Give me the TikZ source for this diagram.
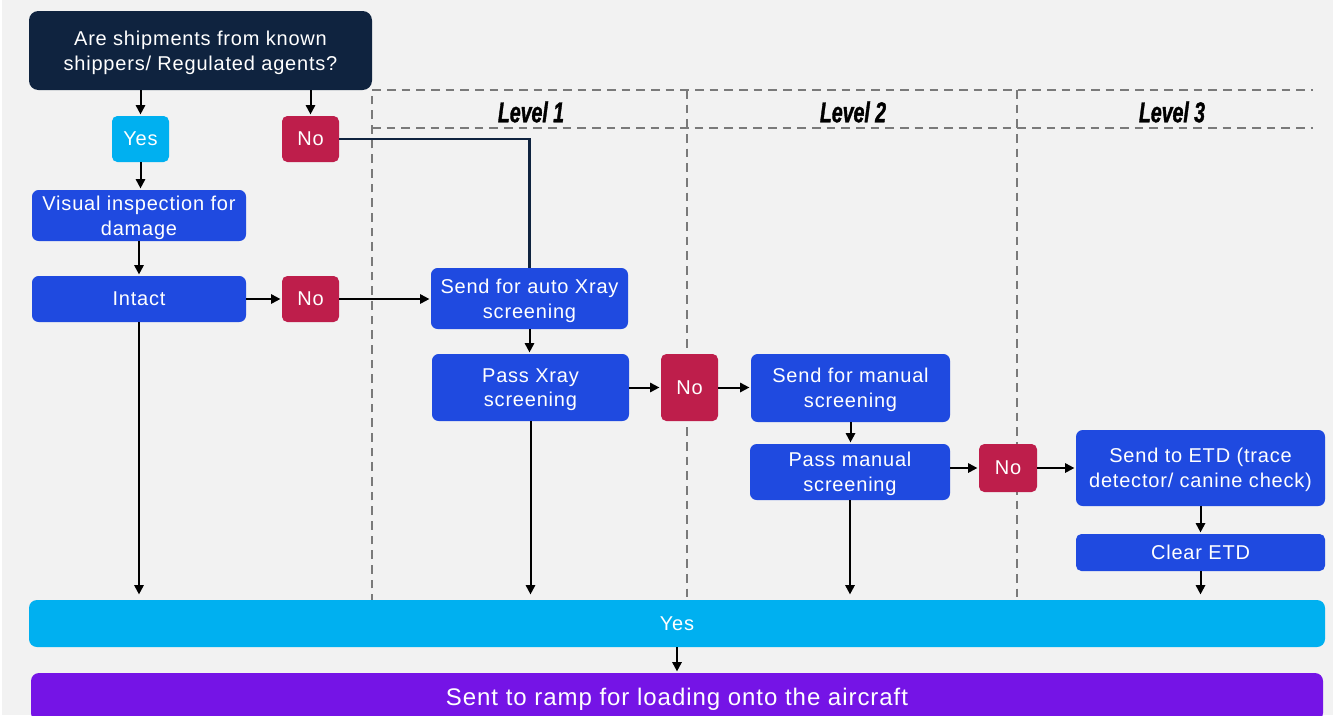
\documentclass[tikz,border=0pt]{standalone}
\usepackage{fontspec}
\setmainfont{Liberation Sans}[LetterSpace=4]
\newfontfamily\lvlfont{Liberation Sans}[FakeStretch=0.68, FakeBold=1.2]
\usetikzlibrary{arrows.meta}

\definecolor{bgcol}{HTML}{F2F2F2}
\definecolor{navy}{HTML}{0F233F}
\definecolor{skyc}{HTML}{00B0F0}
\definecolor{crim}{HTML}{BE1E4B}
\definecolor{bluec}{HTML}{1F4AE0}
\definecolor{purp}{HTML}{7514E6}
\definecolor{dashgrey}{HTML}{7A7A7A}

\tikzset{
  box/.style={rounded corners=5pt, inner sep=0pt, align=center, text=white,
    text depth=0pt, font=\fontsize{15}{18.5}\selectfont},
  bluebox/.style={box, fill=bluec},
  nobox/.style={box, fill=crim, rounded corners=4pt},
  yesbox/.style={box, fill=skyc, rounded corners=4pt},
  arr/.style={-{Triangle[length=7pt,width=7pt]}, line width=1.5pt, shorten >=1pt},
  barr/.style={arr, shorten >=4pt},
  dashline/.style={draw=dashgrey, line width=1.8pt, dash pattern=on 6.5pt off 4.5pt},
  lvl/.style={font=\lvlfont\bfseries\itshape\fontsize{21.5}{24}\selectfont, inner sep=0pt}
}

\begin{document}
\begin{tikzpicture}[x=0.75pt,y=-0.75pt]
  \clip (0,0) rectangle (1333,715);
  \fill[bgcol] (0,0) rectangle (1333,715);
  \fill[white] (0,0) rectangle (2,715);

  % level columns
  \draw[dashline] (372,603) -- (372,90) -- (1313,90);
  \draw[dashline] (372,128) -- (1313,128);
  \draw[dashline] (687,90) -- (687,603);
  \draw[dashline] (1017,90) -- (1017,603);
  \node[lvl] (lv1) at (531,112) {Level 1};
  \node[lvl] (lv2) at (853,112) {Level 2};
  \node[lvl] (lv3) at (1172,112) {Level 3};

  % question and first decision
  \node[box, fill=navy, rounded corners=7pt, minimum width=257.25pt, minimum height=59.25pt]
    (q) at (200.5,50.5) {Are shipments from known\\shippers/ Regulated agents?};
  \node[yesbox, minimum width=42.75pt, minimum height=34.5pt] (yes1) at (140.5,139) {Yes};
  \node[nobox, minimum width=42.75pt, minimum height=34.5pt] (no1) at (310.5,139) {No};

  % known shipper branch
  \node[bluebox, minimum width=160.5pt, minimum height=38.25pt] (vis) at (139,215.5)
    {Visual inspection for\\damage};
  \node[bluebox, minimum width=160.5pt, minimum height=34.5pt] (intact) at (139,299) {Intact};
  \node[nobox, minimum width=42.75pt, minimum height=34.5pt] (no2) at (310.5,299) {No};

  % level 1
  \node[bluebox, minimum width=147.75pt, minimum height=45.75pt] (auto) at (529.5,298.5)
    {Send for auto Xray\\screening};
  \node[bluebox, minimum width=147.75pt, minimum height=50.25pt] (passx) at (530.5,387.5)
    {Pass Xray\\screening};
  \node[nobox, minimum width=42.75pt, minimum height=50.25pt] (no3) at (689.5,387.5) {No};

  % level 2
  \node[bluebox, minimum width=149.25pt, minimum height=51pt] (manual) at (850.5,388)
    {Send for manual\\screening};
  \node[bluebox, minimum width=150pt, minimum height=42pt] (passm) at (850,472)
    {Pass manual\\screening};
  \node[nobox, minimum width=43.5pt, minimum height=36pt] (no4) at (1008,468) {No};

  % level 3
  \node[bluebox, minimum width=186.75pt, minimum height=57pt] (etd) at (1200.5,468)
    {Send to ETD (trace\\detector/ canine check)};
  \node[bluebox, minimum width=186.75pt, minimum height=27.75pt, rounded corners=4pt]
    (clear) at (1200.5,552.5) {Clear ETD};

  % outcome bars
  \node[box, fill=skyc, minimum width=972pt, minimum height=35.25pt, rounded corners=6pt]
    (yesbar) at (677,623.5) {Yes};
  \node[box, fill=purp, minimum width=969pt, minimum height=36pt, rounded corners=6pt,
    font=\fontsize{18}{22}\selectfont] (ramp) at (677,697)
    {Sent to ramp for loading onto the aircraft};

  % connectors
  \draw[arr] (yes1.north |- q.south) -- (yes1.north);
  \draw[arr] (no1.north |- q.south) -- (no1.north);
  \draw[arr] (yes1.south) -- (yes1.south |- vis.north);
  \draw[arr] (vis.south) -- (intact.north);
  \draw[arr] (intact.east) -- (no2.west);
  \draw[arr] (no2.east) -- (no2.east -| auto.west);
  \draw[navy, line width=1.8pt] (no1.east) -- (no1.east -| auto.north) -- (auto.north);
  \draw[arr] (auto.south) -- (auto.south |- passx.north);
  \draw[arr] (passx.east) -- (no3.west);
  \draw[arr] (no3.east) -- (no3.east -| manual.west);
  \draw[arr] (manual.south) -- (manual.south |- passm.north);
  \draw[arr] (passm.east |- no4.west) -- (no4.west);
  \draw[arr] (no4.east) -- (etd.west);
  \draw[arr] (etd.south) -- (clear.north);
  \draw[barr] (intact.south) -- (intact.south |- yesbar.north);
  \draw[barr] (passx.south) -- (passx.south |- yesbar.north);
  \draw[barr] (passm.south) -- (passm.south |- yesbar.north);
  \draw[barr] (clear.south) -- (clear.south |- yesbar.north);
  \draw[arr] (yesbar.south) -- (ramp.north);
\end{tikzpicture}
\end{document}
